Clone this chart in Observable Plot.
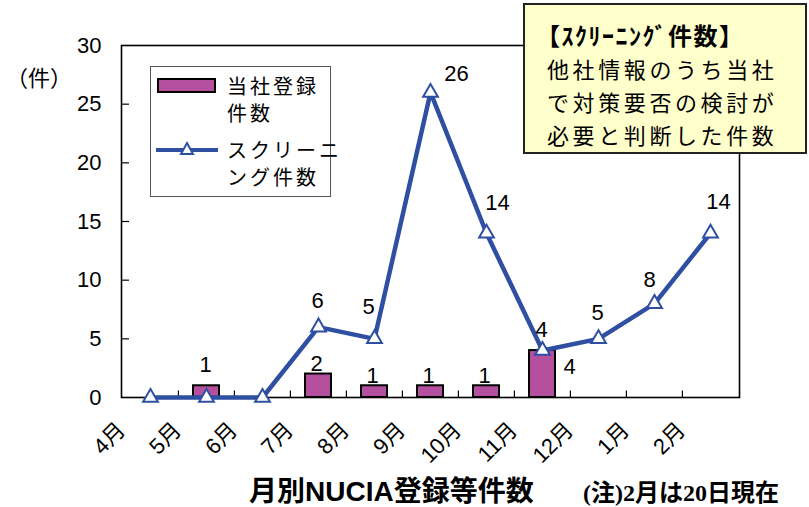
<!DOCTYPE html>
<html>
<head>
<meta charset="utf-8">
<script src="https://cdn.jsdelivr.net/npm/d3@7"></script>
<script src="https://cdn.jsdelivr.net/npm/@observablehq/plot@0.6"></script>
<style>
  html, body { margin: 0; padding: 0; background: #fff; }
  body { width: 809px; height: 507px; position: relative; overflow: hidden;
         font-family: "Liberation Sans", "Noto Sans CJK JP", sans-serif; color: #000; }
  #chart { position: absolute; left: 0; top: 0; }
  .abs { position: absolute; white-space: nowrap; }
  #unit { left: 6px; top: 63px; font-size: 22px; line-height: 26px; font-family: "Noto Sans CJK JP", sans-serif; }
  #legend { left: 150px; top: 66px; width: 179px; height: 129px; border: 1.5px solid #555; background: #fff; }
  #legend .t { position: absolute; left: 76px; font-size: 20px; line-height: 27px; letter-spacing: 3px;
               font-family: "Noto Sans CJK JP", sans-serif; }
  #legend svg { position: absolute; left: 0; top: 0; }
  #note { left: 523px; top: 3px; width: 280px; height: 147px; border: 2px solid #222; background: #ffffcc;
          font-family: "Noto Sans CJK JP", sans-serif; }
  #note .txt { position: absolute; left: 22px; top: 13px; font-size: 22px; letter-spacing: 3.6px; line-height: 33px; }
  #note .h { font-size: 24px; font-weight: bold; letter-spacing: 1.5px; margin-left: -11px; }
  #title { left: 249px; top: 475px; font-size: 28px; line-height: 34px; font-weight: bold;
           font-family: "Liberation Sans", "Noto Sans CJK JP", sans-serif; }
  #foot { left: 583px; top: 479px; font-size: 24px; line-height: 28px; font-weight: bold;
          font-family: "Liberation Serif", "Noto Sans CJK JP", serif; }
</style>
</head>
<body>
<div id="chart"></div>
<div id="unit" class="abs">（件）</div>
<div id="legend" class="abs">
  <svg width="180" height="130">
    <rect x="7" y="12" width="57" height="13" fill="#B5509E" stroke="#000" stroke-width="2"></rect>
    <line x1="5" y1="83" x2="67" y2="83" stroke="#2F4FA2" stroke-width="4"></line>
    <path d="M36,76 L42,87 L30,87 Z" fill="#fff" stroke="#2F4FA2" stroke-width="2"></path>
  </svg>
  <div class="t" style="top:5px">当社登録<br>件数</div>
  <div class="t" style="top:69px">スクリーニ<br>ング件数</div>
</div>
<div id="note" class="abs">
  <div class="txt"><span class="h">【ｽｸﾘｰﾆﾝｸﾞ件数】</span><br>他社情報のうち当社<br>で対策要否の検討が<br>必要と判断した件数</div>
</div>
<div id="title" class="abs">月別NUCIA登録等件数</div>
<div id="foot" class="abs">(注)2月は20日現在</div>
<script>
// ---- data ----
const months = ["4月", "5月", "6月", "7月", "8月", "9月", "10月", "11月", "12月", "1月", "2月"];
const ownRegistrations = [0, 1, 0, 2, 1, 1, 1, 4, 0, 0, 0];
const screeningCounts = [0, 0, 0, 6, 5, 26, 14, 4, 5, 8, 14];
const yTicks = [0, 5, 10, 15, 20, 25, 30];

const rows = months.map((m, i) => ({month: m, own: ownRegistrations[i], screening: screeningCounts[i], i}));

const barColor = "#B5509E";
const lineColor = "#2F4FA2";
const font = "Liberation Sans, Noto Sans CJK JP, sans-serif";

// label placement groups (style only)
const lineLabelOffset = {
  "8月": [-6, -32], "9月": [26, -18], "10月": [11, -30], "2月": [8, -31],
  "11月": [-1, -21], "1月": [-5, -24]
};
const lineLabelGroups = {};
rows.filter(d => d.screening > 0).forEach(d => {
  const k = (lineLabelOffset[d.month] || [-1, -26]).join(",");
  (lineLabelGroups[k] = lineLabelGroups[k] || []).push(d);
});
const barLabelOffset = {"5月": [-1, -21], "11月": [27, 16]};
const barLabelGroups = {};
rows.filter(d => d.own > 0).forEach(d => {
  const k = (barLabelOffset[d.month] || [-2, -10]).join(",");
  (barLabelGroups[k] = barLabelGroups[k] || []).push(d);
});

const plotW = 809 - 121 - 70;

const chart = Plot.plot({
  width: 809,
  height: 507,
  marginLeft: 121,
  marginRight: 70,
  marginTop: 45,
  marginBottom: 110,
  style: {fontFamily: font, fontSize: "22px", background: "transparent", color: "#000"},
  x: {type: "band", domain: months, padding: 0, axis: null},
  y: {domain: [0, 30], axis: null},
  marks: [
    Plot.axisY({ticks: yTicks, tickSize: 0, tickPadding: 20, fontSize: 22, label: null, tickFormat: d => String(d)}),
    Plot.ruleY(yTicks.slice(1, -1), {stroke: "#000", strokeWidth: 1.2, insetRight: plotW - 8}),
    Plot.ruleX(months.slice(1), {x: d => d, y1: 0, y2: 0.55, dx: -plotW / months.length / 2, stroke: "#000", strokeWidth: 1.2}),
    Plot.text(months, {x: d => d, frameAnchor: "bottom", rotate: -45, textAnchor: "end", dx: -24, dy: 34, fontSize: 22}),
    Plot.barY(rows.filter(d => d.own > 0), {x: "month", y: "own", fill: barColor, stroke: "#000", strokeWidth: 2, insetLeft: 15, insetRight: 15}),
    Plot.frame({stroke: "#000", strokeWidth: 1.6}),
    Plot.lineY(rows, {x: "month", y: "screening", stroke: lineColor, strokeWidth: 4.5}),
    Plot.dot(rows, {x: "month", y: "screening", symbol: "triangle", r: 5.5, fill: "#fff", stroke: lineColor, strokeWidth: 2}),
    ...Object.entries(lineLabelGroups).map(([k, arr]) => {
      const [dx, dy] = k.split(",").map(Number);
      return Plot.text(arr, {x: "month", y: "screening", text: d => String(d.screening), dx, dy, fontSize: 22});
    }),
    ...Object.entries(barLabelGroups).map(([k, arr]) => {
      const [dx, dy] = k.split(",").map(Number);
      return Plot.text(arr, {x: "month", y: "own", text: d => String(d.own), dx, dy, fontSize: 22});
    })
  ]
});
document.getElementById("chart").appendChild(chart);
</script>
</body>
</html>
